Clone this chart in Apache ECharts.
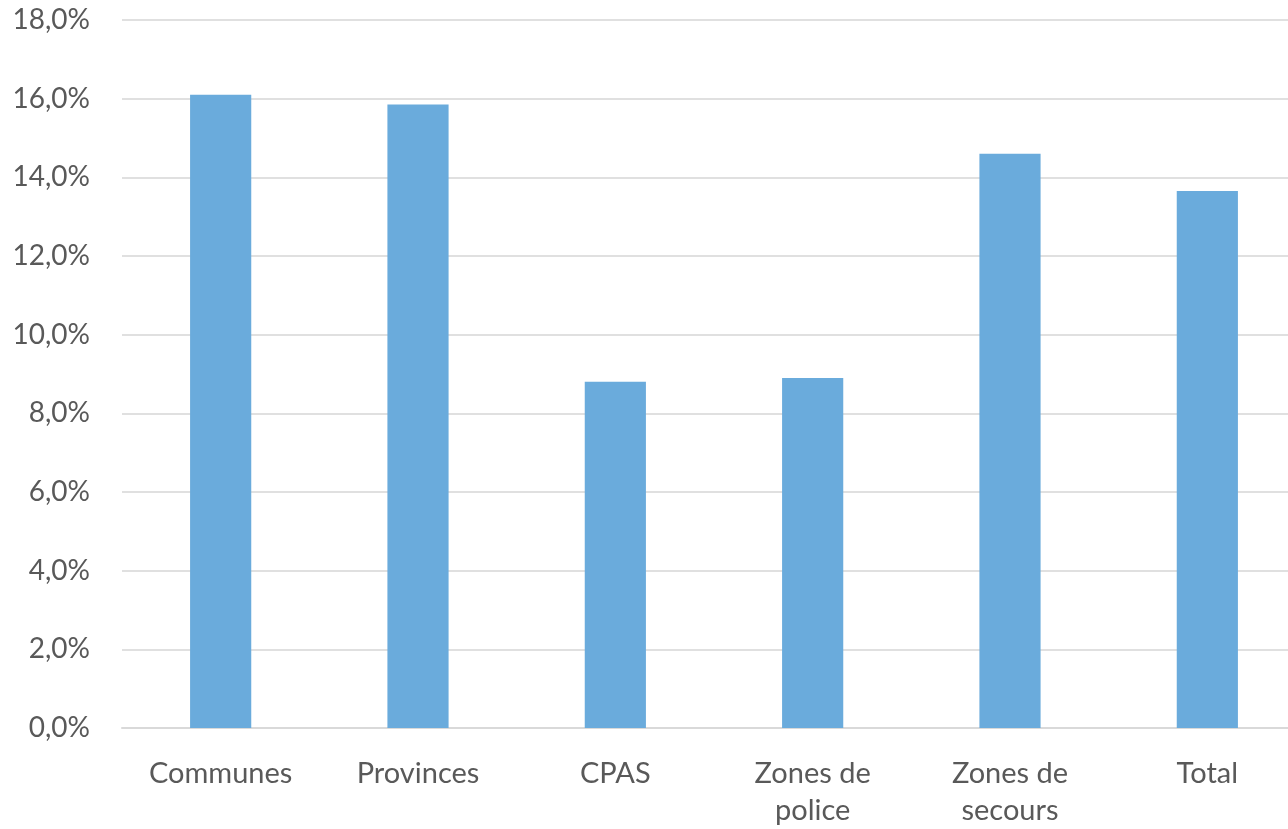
<!DOCTYPE html>
<html>
<head>
<meta charset="utf-8">
<script src="https://cdn.jsdelivr.net/npm/echarts@6/dist/echarts.min.js"></script>
<style>
  html, body { margin: 0; padding: 0; background: #ffffff; overflow: hidden; }
  /* plot area runs slightly past the right edge of the window */
  #chart { width: 1306px; height: 829px; }
</style>
</head>
<body>
<div id="chart"></div>
<script>
// Categories and their percentage values
const categories = ['Communes', 'Provinces', 'CPAS', 'Zones de\npolice', 'Zones de\nsecours', 'Total'];
const values = [16.1, 15.85, 8.8, 8.9, 14.6, 13.65];
const yTicks = { min: 0, max: 18, interval: 2 };

const chart = echarts.init(document.getElementById('chart'), null, { renderer: 'canvas' });
const textColor = '#595959';
const fontFamily = 'Lato, "Open Sans", sans-serif';

chart.setOption({
  animation: false,
  backgroundColor: '#ffffff',
  grid: { left: 122, top: 20, bottom: 96, right: 0, containLabel: false },
  xAxis: {
    type: 'category',
    data: categories,
    axisLine: { show: true, lineStyle: { color: '#d9d9d9', width: 2 } },
    axisTick: { show: false },
    axisLabel: {
      color: textColor, fontSize: 29, fontFamily: fontFamily,
      margin: 27, lineHeight: 37, interval: 0
    }
  },
  yAxis: {
    type: 'value',
    min: yTicks.min, max: yTicks.max, interval: yTicks.interval,
    axisLine: { show: false },
    axisTick: { show: false },
    splitLine: { lineStyle: { color: '#e0e0e0', width: 2 } },
    axisLabel: {
      color: textColor, fontSize: 28, fontFamily: fontFamily, margin: 32,
      padding: [6, 0, 0, 0],
      formatter: v => v.toFixed(1).replace('.', ',') + '%'
    }
  },
  series: [{
    type: 'bar',
    data: values,
    barWidth: '31%',
    itemStyle: { color: '#6aabdc' }
  }]
});
</script>
</body>
</html>
